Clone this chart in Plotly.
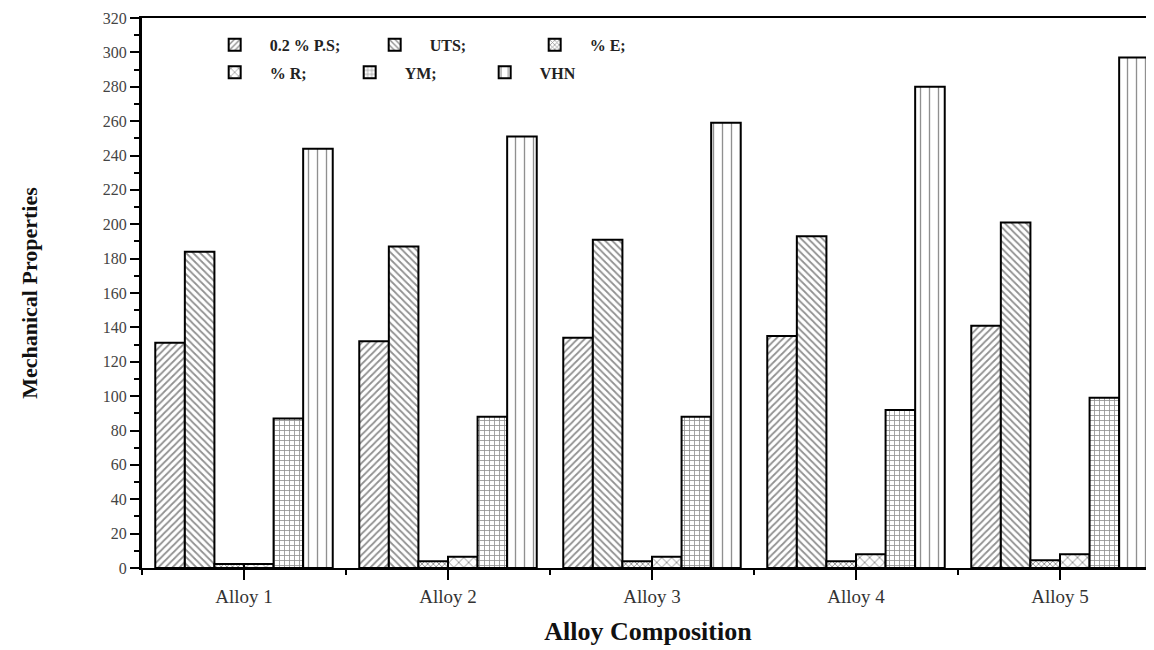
import plotly.graph_objects as go

categories = ["Alloy 1", "Alloy 2", "Alloy 3", "Alloy 4", "Alloy 5"]
series_names = ["0.2 % P.S;", "UTS;", "% E;", "% R;", "YM;", "VHN"]
ps_vals = [131, 132, 134, 135, 141]
uts_vals = [184, 187, 191, 193, 201]
e_vals = [2.3, 4, 4, 4, 4.5]
r_vals = [2.3, 6.5, 6.5, 8, 8]
ym_vals = [87, 88, 88, 92, 99]
vhn_vals = [244, 251, 259, 280, 297]
y_ticks = list(range(0, 321, 20))

values = [ps_vals, uts_vals, e_vals, r_vals, ym_vals, vhn_vals]
shapes = ["/", "\\", "x", "x", "+", "|"]
sizes = [5, 5, 4, 7, 5, 9]
solid = [0.35, 0.35, 0.4, 0.25, 0.3, 0.15]
legends = ["legend", "legend", "legend", "legend2", "legend2", "legend2"]

xpos = [i + 1 for i in range(len(categories))]

fig = go.Figure()
for name, vals, shp, sz, so, lg in zip(series_names, values, shapes, sizes, solid, legends):
    fig.add_trace(go.Bar(
        x=xpos, y=vals, name=name, legend=lg,
        marker=dict(color="white",
                    line=dict(color="black", width=2),
                    pattern=dict(shape=shp, fgcolor="#222222", bgcolor="white",
                                 size=sz, solidity=so)),
    ))

serif = "Liberation Serif"
# page body has an 8px default margin; size the figure to fit the window
W, H = 1146, 642
L, T, B = 134, 10, 82
plot_w = W - L
per_cat = 204
xr = [0.5, 0.5 + plot_w / per_cat]

fig.update_layout(
    width=W, height=H,
    margin=dict(l=L, r=0, t=T, b=B),
    paper_bgcolor="white", plot_bgcolor="white",
    barmode="group", bargap=0.13, bargroupgap=0,
    font=dict(family=serif, color="#222222"),
    legend=dict(orientation="h", x=0.057, y=0.982, xanchor="left", yanchor="top",
                font=dict(family=serif, size=16, color="#222222", weight="bold"),
                bgcolor="rgba(0,0,0,0)", itemwidth=60, tracegroupgap=0,
                entrywidth=85, entrywidthmode="pixels"),
    legend2=dict(orientation="h", x=0.057, y=0.932, xanchor="left", yanchor="top",
                 font=dict(family=serif, size=16, color="#222222", weight="bold"),
                 bgcolor="rgba(0,0,0,0)", itemwidth=60, tracegroupgap=0,
                 entrywidth=60, entrywidthmode="pixels"),
    xaxis=dict(
        range=xr, tickvals=xpos, ticktext=categories, automargin=False,
        showline=True, linecolor="black", linewidth=2, mirror=True,
        ticks="outside", ticklen=10, tickwidth=2, tickcolor="black",
        minor=dict(tick0=0.5, dtick=1, ticks="outside", ticklen=5, tickwidth=2, tickcolor="black"),
        showgrid=False, zeroline=False,
        tickfont=dict(family=serif, size=19, color="#333333"),
        title=dict(text="Alloy Composition", standoff=16,
                   font=dict(family=serif, size=26, color="#111111", weight="bold")),
    ),
    yaxis=dict(
        range=[0, 320], tickvals=y_ticks, automargin=False,
        showline=True, linecolor="black", linewidth=3,
        ticks="outside", ticklen=9, tickwidth=2, tickcolor="black",
        minor=dict(dtick=10, ticks="outside", ticklen=5, tickwidth=2, tickcolor="black"),
        showgrid=False, zeroline=False,
        tickfont=dict(family=serif, size=16, color="#444444"),
        title=dict(text="Mechanical Properties", standoff=60,
                   font=dict(family=serif, size=22, color="#111111", weight="bold")),
    ),
)

fig.write_html("out.html")
